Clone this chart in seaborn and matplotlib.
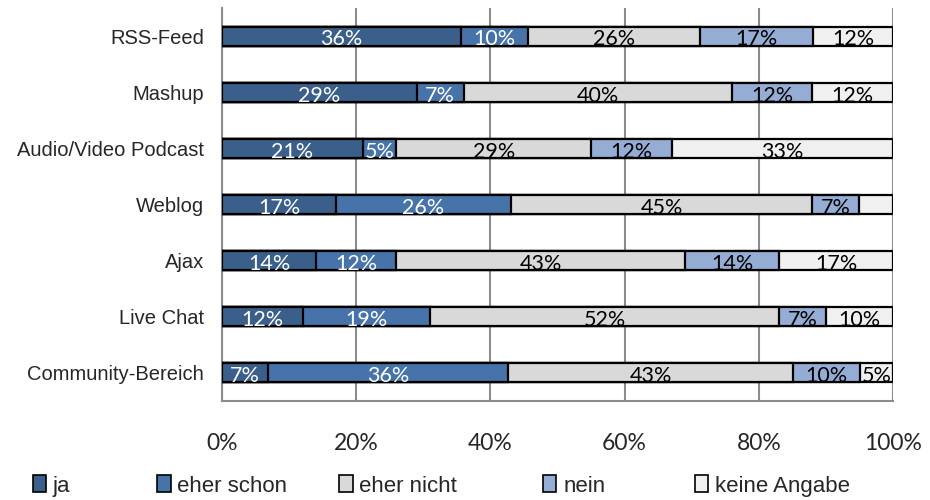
import numpy as np
import pandas as pd
import matplotlib.pyplot as plt
import seaborn as sns
from matplotlib.patches import Patch

# values as shown in the chart (percent of answers)
categories = ["RSS-Feed", "Mashup", "Audio/Video Podcast", "Weblog", "Ajax",
              "Live Chat", "Community-Bereich"]
answers = ["ja", "eher schon", "eher nicht", "nein", "keine Angabe"]
ja = [36, 29, 21, 17, 14, 12, 7]
eher_schon = [10, 7, 5, 26, 12, 19, 36]
eher_nicht = [26, 40, 29, 45, 43, 52, 43]
nein = [17, 12, 12, 7, 14, 7, 10]
keine_angabe = [12, 12, 33, 5, 17, 10, 5]
# label hidden for this segment in the original
hidden_labels = [("Weblog", "keine Angabe")]

colors = ["#3B5F8B", "#4674AA", "#D9D9D9", "#95ADD4", "#F0F0F0"]
text_colors = ["white", "white", "black", "black", "black"]

sns.set_style("white")
plt.rcParams["font.family"] = ["Liberation Sans", "DejaVu Sans"]

df = pd.DataFrame({"ja": ja, "eher schon": eher_schon, "eher nicht": eher_nicht,
                   "nein": nein, "keine Angabe": keine_angabe}, index=categories)
# 100% stacked: normalise each row
share = df.div(df.sum(axis=1), axis=0) * 100
cum = share.cumsum(axis=1)

fig = plt.figure(figsize=(9.3, 5), dpi=100)
ax = fig.add_axes([0.2387, 0.198, 0.7215, 0.786])

# draw cumulative layers from the right so the earlier ones lie on top
for i in reversed(range(len(answers))):
    layer = pd.DataFrame({"cat": categories, "val": cum[answers[i]].values})
    sns.barplot(data=layer, x="val", y="cat", orient="h", ax=ax, color=colors[i],
                saturation=1, width=0.34, edgecolor="black", linewidth=1.6, zorder=3)

# segment labels
for r, cat in enumerate(categories):
    left = 0
    for i, a in enumerate(answers):
        w = share.loc[cat, a]
        if (cat, a) not in hidden_labels:
            ax.text(left + w / 2, r + 0.06, f"{df.loc[cat, a]}%", ha="center", va="center",
                    fontsize=15.5, color=text_colors[i], family=["Lato", "DejaVu Sans"], zorder=5)
        left += w

ax.set_xlim(0, 100)
ax.set_ylim(len(categories) - 0.5, -0.5)
ax.set_xticks(np.arange(0, 101, 20))
ax.set_xticklabels([f"{t}%" for t in range(0, 101, 20)], family=["Lato", "DejaVu Sans"],
                   fontsize=16.5)
ax.set_yticks(range(len(categories)))
ax.set_yticklabels(categories, fontsize=14.5)
ax.set_yticks(np.arange(-0.5, len(categories), 1), minor=True)
ax.set_xlabel("")
ax.set_ylabel("")

ax.grid(axis="x", color="#8C8C8C", linewidth=1.5, zorder=0)
ax.set_axisbelow(True)
for s in ["top", "right"]:
    ax.spines[s].set_visible(False)
for s in ["left", "bottom"]:
    ax.spines[s].set_color("#8C8C8C")
    ax.spines[s].set_linewidth(1.5)
ax.tick_params(axis="x", which="major", direction="out", length=9, width=1.5,
               color="#8C8C8C", pad=14)
ax.tick_params(axis="y", which="major", length=0, pad=13)
ax.tick_params(axis="y", which="minor", direction="out", length=6, width=1.5,
               color="#8C8C8C")

# legend: one entry per slot along the bottom
legend_x = [0.035, 0.169, 0.365, 0.584, 0.747]
for c, a, x in zip(colors, answers, legend_x):
    h = Patch(facecolor=c, edgecolor="black", linewidth=1.2)
    fig.legend([h], [a], loc="center left", bbox_to_anchor=(x, 0.028), frameon=False,
               handlelength=0.6, handleheight=0.8, handletextpad=0.3, borderpad=0,
               borderaxespad=0, prop={"size": 16})

fig.savefig("out.png", dpi=100)
